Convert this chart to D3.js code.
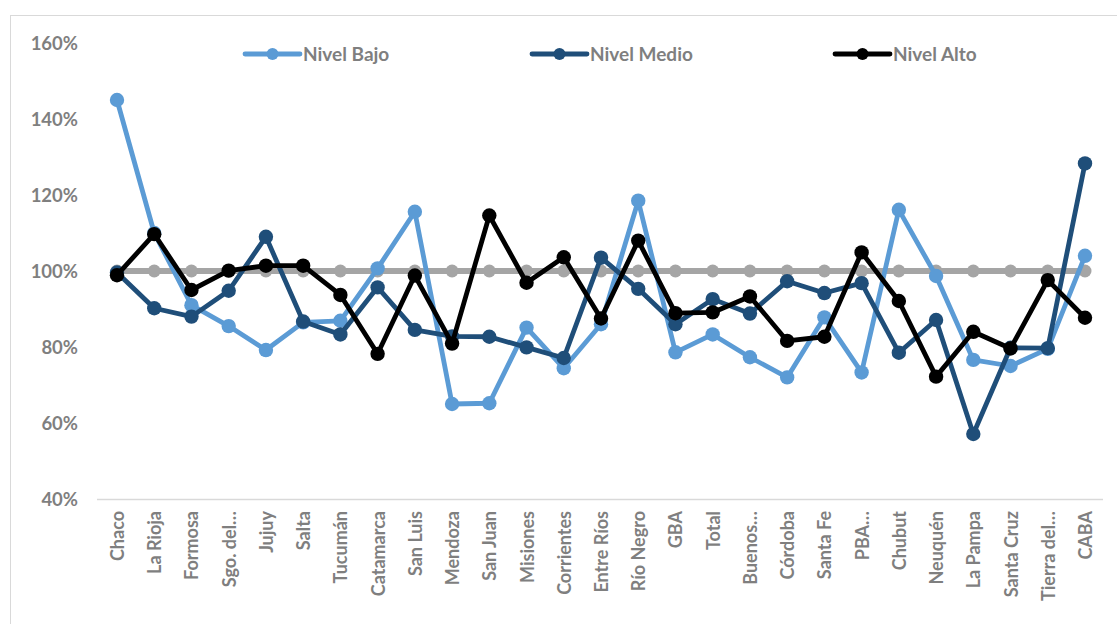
<!DOCTYPE html>
<html>
<head>
<meta charset="utf-8">
<script src="https://cdn.jsdelivr.net/npm/d3@7/dist/d3.min.js"></script>
<style>
  html, body { margin: 0; padding: 0; background: #fff; }
  svg { display: block; }
  text { font-family: Lato, "Open Sans", sans-serif; font-weight: bold; fill: #7f7f7f; }
</style>
</head>
<body>
<svg id="chart" width="1117" height="624"></svg>
<script>
const categories = ["Chaco","La Rioja","Formosa","Sgo. del…","Jujuy","Salta","Tucumán","Catamarca","San Luis","Mendoza","San Juan","Misiones","Corrientes","Entre Ríos","Río Negro","GBA","Total","Buenos…","Córdoba","Santa Fe","PBA…","Chubut","Neuquén","La Pampa","Santa Cruz","Tierra del…","CABA"];

const nivelBajo  = [145.0,110.0,91.0,85.5,79.2,86.5,86.9,100.7,115.6,65.0,65.2,85.1,74.4,86.0,118.5,78.6,83.3,77.3,72.0,87.8,73.3,116.1,98.7,76.6,75.0,79.5,104.0];
const nivelMedio = [99.6,90.2,88.0,94.8,109.0,86.7,83.3,95.7,84.5,82.8,82.7,79.9,77.1,103.5,95.3,86.0,92.6,88.8,97.3,94.2,96.8,78.5,87.1,57.1,79.8,79.7,128.3];
const nivelAlto  = [98.9,109.7,95.0,100.1,101.4,101.4,93.7,78.2,98.8,80.9,114.6,96.9,103.6,87.5,108.0,88.9,89.1,93.3,81.6,82.7,104.9,92.1,72.2,84.0,79.6,97.6,87.7];
const referencia = categories.map(() => 100);

const yTicks = [40,60,80,100,120,140,160];
const legendLabels = ["Nivel Bajo","Nivel Medio","Nivel Alto"];

const colors = { ref: "#a5a5a5", bajo: "#5b9bd5", medio: "#1f4e79", alto: "#000000" };

const svg = d3.select("#chart");

// chart area border
svg.append("rect")
  .attr("x", 10.5).attr("y", 15.5)
  .attr("width", 1120).attr("height", 620)
  .attr("fill", "none").attr("stroke", "#d9d9d9").attr("stroke-width", 1);

const x = d3.scalePoint().domain(categories).range([117, 1085]);
const y = d3.scaleLinear().domain([40, 160]).range([499, 43]);

// y tick labels
const yAxis = d3.axisLeft(y).tickValues(yTicks).tickFormat(d => d + "%").tickSize(0).tickPadding(0);
const gy = svg.append("g").attr("transform", "translate(78,0)").call(yAxis);
gy.select(".domain").remove();
gy.selectAll("text").style("font-size", "18.5px").attr("fill", "#7f7f7f")
  .style("font-family", "Lato, sans-serif").style("font-weight", "bold").attr("dy", "0.35em");

// x axis line
const xAxis = d3.axisBottom(x).tickSize(0).tickPadding(0);
const gx = svg.append("g").attr("transform", "translate(0,499)").call(xAxis);
gx.select(".domain").attr("d", "M97,0.5H1103").attr("stroke", "#d9d9d9").attr("stroke-width", 1.5);
gx.selectAll("text")
  .attr("transform", "rotate(-90)")
  .attr("x", -12).attr("y", 0).attr("dy", "0.36em")
  .style("text-anchor", "end")
  .style("font-size", "18px").attr("fill", "#7f7f7f")
  .style("font-family", "Lato, sans-serif").style("font-weight", "bold");

const line = d3.line().x((d, i) => x(categories[i])).y(d => y(d));

function drawSeries(values, color, width, r) {
  const g = svg.append("g");
  g.append("path").datum(values)
    .attr("d", line).attr("fill", "none")
    .attr("stroke", color).attr("stroke-width", width)
    .attr("stroke-linejoin", "round").attr("stroke-linecap", "round");
  g.selectAll("circle").data(values).join("circle")
    .attr("cx", (d, i) => x(categories[i])).attr("cy", d => y(d))
    .attr("r", r).attr("fill", color);
}

drawSeries(referencia, colors.ref, 6, 6.5);
drawSeries(nivelBajo, colors.bajo, 4.8, 7.2);
drawSeries(nivelMedio, colors.medio, 4.8, 7.2);
drawSeries(nivelAlto, colors.alto, 4.8, 7.2);

// legend
const legendX = [245, 532, 835];
const legendColors = [colors.bajo, colors.medio, colors.alto];
const lg = svg.append("g");
legendLabels.forEach((lab, i) => {
  const g = lg.append("g").attr("transform", `translate(${legendX[i]},54)`);
  g.append("line").attr("x1", 0).attr("x2", 55).attr("y1", 0).attr("y2", 0)
    .attr("stroke", legendColors[i]).attr("stroke-width", 4.8).attr("stroke-linecap", "round");
  g.append("circle").attr("cx", 27.5).attr("cy", 0).attr("r", 6).attr("fill", legendColors[i]);
  g.append("text").attr("x", 58).attr("y", 0).attr("dy", "0.36em")
    .style("font-size", "19px").text(lab);
});
</script>
</body>
</html>
